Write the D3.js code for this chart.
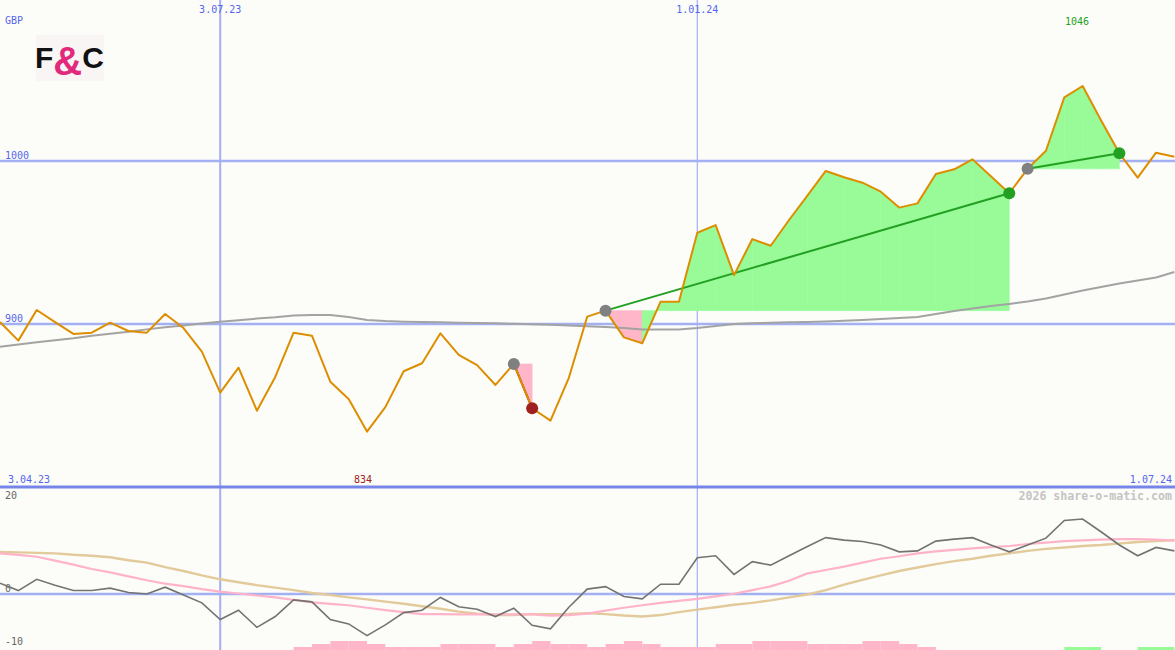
<!DOCTYPE html>
<html>
<head>
<meta charset="utf-8">
<script src="https://cdn.jsdelivr.net/npm/d3@7"></script>
<style>
  html, body { margin: 0; padding: 0; background: #fcfdf9; }
  svg { display: block; }
</style>
</head>
<body>
<svg id="chart" width="1175" height="650"></svg>
<script>
// ---------- DATA ----------
const dates = [
  "2023-04-10","2023-04-17","2023-04-24","2023-05-01","2023-05-08","2023-05-15","2023-05-22","2023-05-29",
  "2023-06-05","2023-06-12","2023-06-19","2023-06-26","2023-07-03","2023-07-10","2023-07-17","2023-07-24",
  "2023-07-31","2023-08-07","2023-08-14","2023-08-21","2023-08-28","2023-09-04","2023-09-11","2023-09-18",
  "2023-09-25","2023-10-02","2023-10-09","2023-10-16","2023-10-23","2023-10-30","2023-11-06","2023-11-13",
  "2023-11-20","2023-11-27","2023-12-04","2023-12-11","2023-12-18","2023-12-25","2024-01-01","2024-01-08",
  "2024-01-15","2024-01-22","2024-01-29","2024-02-05","2024-02-12","2024-02-19","2024-02-26","2024-03-04",
  "2024-03-11","2024-03-18","2024-03-25","2024-04-01","2024-04-08","2024-04-15","2024-04-22","2024-04-29",
  "2024-05-06","2024-05-13","2024-05-20","2024-05-27","2024-06-03","2024-06-10","2024-06-17","2024-06-24",
  "2024-07-01"
];

const price = [
  901.2, 889.8, 908.6, 901.2, 893.9, 894.7, 900.8, 895.7, 894.7, 906.1,
  897.5, 883.0, 857.9, 873.2, 846.8, 867.5, 894.7, 892.8, 864.6, 854.0,
  834.0, 849.0, 871.0, 875.9, 894.3, 881.0, 874.8, 862.6, 875.5, 848.3,
  840.7, 867.0, 904.5, 908.2, 891.8, 888.2, 913.7, 913.7, 956.0, 960.7,
  930.0, 952.1, 948.0, 963.8, 978.8, 993.9, 990.0, 986.7, 981.2, 971.4,
  974.0, 992.0, 994.9, 1001.0, 990.6, 980.2, 995.2, 1006.3, 1039.0, 1046.0,
  1025.0, 1004.7, 989.8, 1005.1, 1002.6
];

const movingAvg = [
  886.1, 887.4, 888.8, 890.1, 891.3, 892.8, 894.0, 895.3, 896.7, 898.0,
  899.1, 900.3, 901.4, 902.3, 903.3, 904.1, 905.2, 905.5, 905.5, 904.3,
  902.5, 901.8, 901.4, 901.2, 901.0, 900.8, 900.6, 900.4, 900.1, 899.8,
  899.5, 899.1, 898.6, 898.2, 897.5, 896.7, 896.6, 896.6, 897.5, 898.8,
  900.0, 900.4, 900.8, 901.0, 901.2, 901.5, 902.0, 902.5, 903.1, 903.7,
  904.3, 906.1, 908.0, 909.5, 911.0, 912.3, 913.8, 915.6, 918.1, 920.6,
  922.7, 924.8, 926.7, 928.5, 931.9
];

const momentum = [
  2.2, 0.7, 3.0, 1.8, 0.7, 0.7, 1.2, 0.3, 0.0, 1.4,
  -0.2, -1.8, -5.2, -3.3, -6.8, -4.6, -1.2, -1.6, -5.2, -6.1,
  -8.5, -6.3, -3.8, -3.3, -0.7, -2.6, -3.1, -4.6, -2.9, -6.4,
  -7.1, -2.7, 1.0, 1.5, -0.5, -1.0, 2.0, 2.0, 7.4, 7.8,
  4.0, 6.6, 5.9, 7.8, 9.7, 11.5, 11.0, 10.7, 10.0, 8.6,
  8.8, 10.8, 11.2, 11.5, 10.0, 8.6, 10.0, 11.4, 15.0, 15.3,
  12.7, 10.0, 7.8, 9.5, 8.8
];

const signalFast = [
  8.3, 8.0, 7.6, 6.8, 6.0, 5.1, 4.4, 3.6, 2.8, 2.1,
  1.6, 1.0, 0.5, 0.1, -0.3, -0.7, -1.2, -1.7, -2.0, -2.3,
  -2.8, -3.3, -3.7, -4.1, -4.1, -4.15, -4.15, -4.15, -4.15, -4.15,
  -4.4, -4.3, -4.0, -3.4, -2.8, -2.3, -1.8, -1.4, -1.0, -0.5,
  0.05, 0.8, 1.55, 2.7, 4.2, 4.9, 5.6, 6.4, 7.2, 7.7,
  8.3, 8.7, 9.0, 9.3, 9.55, 9.8, 10.2, 10.5, 10.8, 10.95,
  11.1, 11.2, 11.2, 11.1, 10.9
];

const signalSlow = [
  8.6, 8.5, 8.4, 8.3, 8.0, 7.8, 7.5, 6.9, 6.4, 5.5,
  4.7, 3.8, 3.0, 2.4, 1.8, 1.3, 0.8, 0.2, -0.2, -0.7,
  -1.1, -1.55, -2.0, -2.5, -3.0, -3.6, -4.0, -4.3, -4.3, -4.1,
  -4.1, -4.05, -3.9, -4.1, -4.4, -4.6, -4.3, -3.7, -3.2, -2.7,
  -2.2, -1.8, -1.3, -0.7, -0.1, 0.8, 1.9, 2.9, 3.8, 4.7,
  5.4, 6.1, 6.7, 7.2, 7.8, 8.3, 8.8, 9.2, 9.5, 9.8,
  10.0, 10.3, 10.6, 10.8, 11.0
];

// strength bars per week (negative = pink, positive = green)
const strength = [
  0, 0, 0, 0, 0, 0, 0, 0, 0, 0,
  0, 0, 0, 0, 0, 0, -1, -2, -3, -3,
  -2, -1, -1, -1, -2, -2, -2, -1, -2, -3,
  -2, -2, -1, -2, -3, -2, -1, -1, -1, -2,
  -2, -3, -3, -3, -2, -2, -2, -3, -3, -2,
  -1, 0, 0, 0, 0, 0, 0, 0, 1, 1,
  0, 0, 1, 1, 0
];

// trades (week indices)
const tradeEntry = [28, 33, 56];
const tradeExit  = [29, 55, 61];
const tradeWin   = [false, true, true];

// labels
const priceTicks = [900, 1000];
const lowerTicks = [20, 0, -10];
const gridDates = ["2023-07-03", "2024-01-01"];
const gridLabels = ["3.07.23", "1.01.24"];
const startLabel = "3.04.23";
const endLabel = "1.07.24";
const currency = "GBP";
const lowLabel = "834";
const highLabel = "1046";
const watermark = "2026 share-o-matic.com";

// ---------- CHART ----------
const svg = d3.select("#chart");
const W = 1175, H = 650;
const parse = d3.timeParse("%Y-%m-%d");
const dts = dates.map(parse);

const x = d3.scaleTime().domain([dts[0], dts[dts.length - 1]]).range([0, 1174.4]);
const yP = d3.scaleLinear().domain([900, 1000]).range([324, 161]);
const yL = d3.scaleLinear().domain([0, 20]).range([594, 496]);
const yB = d3.scaleLinear().domain([0, 3]).range([650, 641]);

const mono = "'DejaVu Sans Mono', monospace";
const blue = "#5566ee";
const gridCol = "#a3b0f2";

svg.append("rect").attr("width", W).attr("height", H).attr("fill", "#fcfdf9");

// horizontal grid (upper)
priceTicks.forEach(v => {
  svg.append("line").attr("x1", 0).attr("x2", W)
    .attr("y1", yP(v)).attr("y2", yP(v))
    .attr("stroke", gridCol).attr("stroke-width", 2.5);
});
// lower zero line
svg.append("line").attr("x1", 0).attr("x2", W)
  .attr("y1", yL(0)).attr("y2", yL(0))
  .attr("stroke", gridCol).attr("stroke-width", 2.5);

// vertical grid
gridDates.forEach((d, k) => {
  const xx = x(parse(d));
  svg.append("line").attr("x1", xx).attr("x2", xx)
    .attr("y1", 0).attr("y2", H)
    .attr("stroke", gridCol).attr("stroke-width", k === 0 ? 2 : 1.2);
  svg.append("text").attr("x", xx).attr("y", 13)
    .attr("text-anchor", "middle").attr("font-family", mono).attr("font-size", 10)
    .attr("fill", blue).text(gridLabels[k]);
});

// axis separator
svg.append("line").attr("x1", 0).attr("x2", W).attr("y1", 487).attr("y2", 487)
  .attr("stroke", "#7585e8").attr("stroke-width", 3);

// trade fills
const green = "#98fb98", pink = "#ffb6c8";
const poly = d3.line();
tradeEntry.forEach((e, t) => {
  const lvl = price[e];
  for (let i = e; i < tradeExit[t]; i++) {
    const pts = [[x(dts[i]), yP(lvl)], [x(dts[i]), yP(price[i])],
                 [x(dts[i + 1]), yP(price[i + 1])], [x(dts[i + 1]), yP(lvl)]];
    const col = price[i + 1] >= lvl ? green : pink;
    svg.append("path").attr("d", poly(pts) + "Z")
      .attr("fill", col).attr("stroke", col).attr("stroke-width", 0.6);
  }
});

// moving average
svg.append("path").datum(movingAvg)
  .attr("d", d3.line().x((d, i) => x(dts[i])).y(d => yP(d)))
  .attr("fill", "none").attr("stroke", "#a3a3a3").attr("stroke-width", 2);

// trade lines
tradeEntry.forEach((e, t) => {
  const s = tradeExit[t];
  svg.append("line")
    .attr("x1", x(dts[e])).attr("y1", yP(price[e]))
    .attr("x2", x(dts[s])).attr("y2", yP(price[s]))
    .attr("stroke", tradeWin[t] ? "#22a022" : "#a02020").attr("stroke-width", 2);
});

// price line
svg.append("path").datum(price)
  .attr("d", d3.line().x((d, i) => x(dts[i])).y(d => yP(d)))
  .attr("fill", "none").attr("stroke", "#dc8e00").attr("stroke-width", 2)
  .attr("stroke-linejoin", "round");

// markers
tradeEntry.forEach((e, t) => {
  const s = tradeExit[t];
  svg.append("circle").attr("cx", x(dts[e])).attr("cy", yP(price[e])).attr("r", 6)
    .attr("fill", "#808080");
  svg.append("circle").attr("cx", x(dts[s])).attr("cy", yP(price[s])).attr("r", 6)
    .attr("fill", tradeWin[t] ? "#22a022" : "#a02020");
});

// upper labels
svg.append("text").attr("x", 5).attr("y", 24).attr("font-family", mono).attr("font-size", 10)
  .attr("fill", blue).text(currency);
priceTicks.forEach(v => {
  svg.append("text").attr("x", 5).attr("y", yP(v) - 2).attr("font-family", mono).attr("font-size", 10)
    .attr("fill", blue).text(v);
});
svg.append("text").attr("x", 8).attr("y", 483).attr("font-family", mono).attr("font-size", 10)
  .attr("fill", blue).text(startLabel);
svg.append("text").attr("x", 1172).attr("y", 483).attr("text-anchor", "end")
  .attr("font-family", mono).attr("font-size", 10).attr("fill", blue).text(endLabel);
svg.append("text").attr("x", 363).attr("y", 483).attr("text-anchor", "middle")
  .attr("font-family", mono).attr("font-size", 10).attr("fill", "#a02020").text(lowLabel);
svg.append("text").attr("x", 1077).attr("y", 25).attr("text-anchor", "middle")
  .attr("font-family", mono).attr("font-size", 10).attr("fill", "#22a022").text(highLabel);

// logo (letters placed side by side)
const logo = svg.append("g");
logo.append("rect").attr("x", 36).attr("y", 35).attr("width", 68).attr("height", 46).attr("fill", "#f9f5f5");
const lt = logo.append("text").attr("x", 35).attr("y", 68)
  .attr("font-family", "'Liberation Sans', Arial, sans-serif").attr("font-weight", "bold");
lt.append("tspan").attr("font-size", 30).attr("fill", "#111").text("F");
lt.append("tspan").attr("font-size", 40).attr("fill", "#e22a7c").attr("dy", 7).text("&");
lt.append("tspan").attr("font-size", 30).attr("fill", "#111").attr("dy", -7).text("C");

// lower panel
svg.append("text").attr("x", 1172).attr("y", 500).attr("text-anchor", "end")
  .attr("font-family", mono).attr("font-size", 11.6).attr("font-weight", "bold")
  .attr("fill", "#c4c4c4").text(watermark);
const lowerLabelY = {"20": 499, "0": 592, "-10": 645};
lowerTicks.forEach(v => {
  svg.append("text").attr("x", 5).attr("y", lowerLabelY[String(v)])
    .attr("font-family", mono).attr("font-size", 10).attr("fill", "#666").text(v);
});

// strength bars
strength.forEach((v, i) => {
  if (v === 0 || i >= dts.length - 1) return;
  const x0 = x(dts[i]), x1 = x(dts[i + 1]);
  svg.append("rect").attr("x", x0).attr("width", x1 - x0)
    .attr("y", yB(Math.abs(v))).attr("height", yB(0) - yB(Math.abs(v)))
    .attr("fill", v < 0 ? "#ffb6c8" : "#98fb98");
});

const lineL = d3.line().x((d, i) => x(dts[i])).y(d => yL(d));
svg.append("path").datum(signalSlow).attr("d", lineL)
  .attr("fill", "none").attr("stroke", "#e2ca9a").attr("stroke-width", 2.4);
svg.append("path").datum(signalFast).attr("d", lineL)
  .attr("fill", "none").attr("stroke", "#ffb3c9").attr("stroke-width", 2.2);
svg.append("path").datum(momentum).attr("d", lineL)
  .attr("fill", "none").attr("stroke", "#737373").attr("stroke-width", 1.6);
</script>
</body>
</html>
